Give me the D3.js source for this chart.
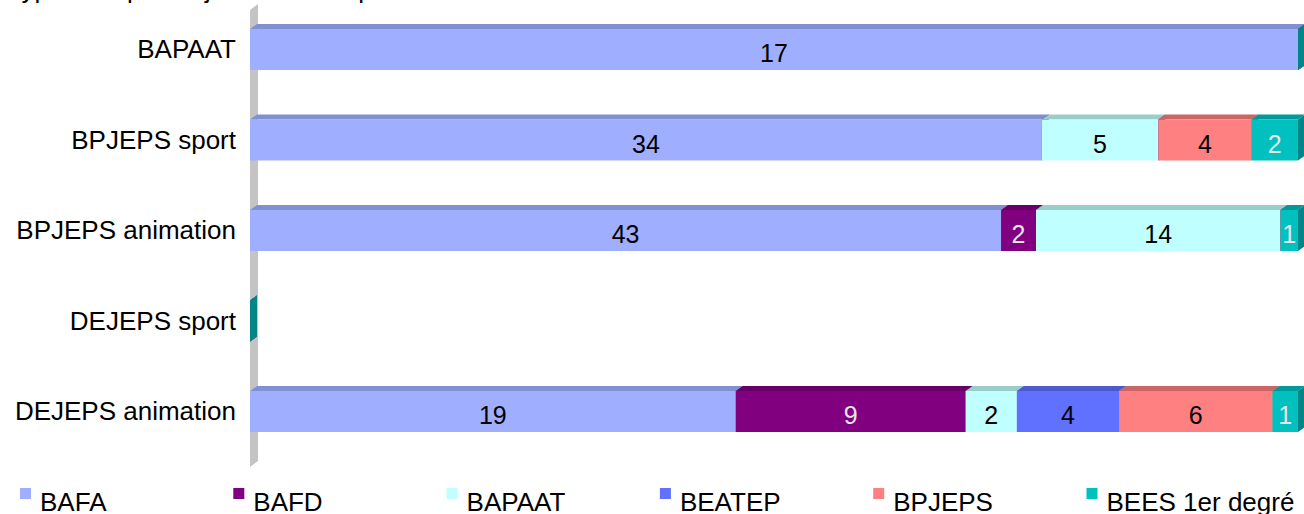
<!DOCTYPE html>
<html>
<head>
<meta charset="utf-8">
<script src="https://cdn.jsdelivr.net/npm/d3@7"></script>
<style>
    body { margin: 0; background: #fff; }
    text { font-family: "Liberation Sans", Arial, sans-serif; }
</style>
</head>
<body>
<div id="chart"></div>
<script>
// Diploma being prepared (rows)
const categories = ["BAPAAT", "BPJEPS sport", "BPJEPS animation", "DEJEPS sport", "DEJEPS animation"];

// Diploma already held (stack series)
const seriesNames = ["BAFA", "BAFD", "BAPAAT", "BEATEP", "BPJEPS", "BEES 1er degré"];

const bafa   = [17, 34, 43, 0, 19];
const bafd   = [0, 0, 2, 0, 9];
const bapaat = [0, 5, 14, 0, 2];
const beatep = [0, 0, 0, 0, 4];
const bpjeps = [0, 4, 0, 0, 6];
const bees   = [0, 2, 1, 0, 1];

const titleText = "Type de diplôme jeunesse et sport obtenu";

const WIDTH = 1304;
const HEIGHT = 514;
const PLOT_LEFT = 250;
const PLOT_RIGHT = 1298;
const BAR_H = 41;
const DX = 7, DY = -5;          // bar depth
const WALL_DX = 8, WALL_DY = -6; // wall depth

// front / top / side colours per series
const frontColors = ["#a0aeff", "#800080", "#c0ffff", "#6070ff", "#ff8080", "#00c0c0"];
const topColors   = ["#8090d0", "#660066", "#9accca", "#4d5acc", "#cc6666", "#009a9a"];
const sideColors  = ["#7080c0", "#550055", "#88bbbb", "#4050b0", "#b05858", "#008686"];
const labelColors = ["#000", "#e6e6e6", "#000", "#000", "#000", "#e6e6e6"];

const seriesValues = [bafa, bafd, bapaat, beatep, bpjeps, bees];

// rows for d3.stack
const rows = categories.map((c, i) => {
    const r = { cat: c };
    seriesNames.forEach((s, j) => { r[s] = seriesValues[j][i]; });
    return r;
});

const stacked = d3.stack()
    .keys(seriesNames)
    .offset(d3.stackOffsetExpand)(rows);

const svg = d3.select("#chart")
    .append("svg")
    .attr("width", WIDTH)
    .attr("height", HEIGHT);

let xScale = d3.scaleLinear()
    .domain([0, 1])
    .range([PLOT_LEFT, PLOT_RIGHT]);

let yScale = d3.scalePoint()
    .domain(categories)
    .range([49.5, 411.5]);

// Title (mostly out of frame)
svg.append("text")
    .attr("x", 7)
    .attr("y", -2.5)
    .attr("font-size", 26)
    .text(titleText);

// Left wall
const wallTop = yScale(categories[0]) - 39.5;
const wallBottom = yScale(categories[categories.length - 1]) + 55.5;
svg.append("path")
    .attr("d", `M${PLOT_LEFT},${wallBottom}L${PLOT_LEFT},${wallTop}` +
        `L${PLOT_LEFT + WALL_DX},${wallTop + WALL_DY}L${PLOT_LEFT + WALL_DX},${wallBottom + WALL_DY}Z`)
    .attr("fill", "#c4c4c4");

// segments: one entry per (row, series)
const segments = [];
categories.forEach((c, i) => {
    stacked.forEach((layer, j) => {
        segments.push({
            cat: c,
            idx: j,
            value: seriesValues[j][i],
            x0: xScale(layer[i][0] || 0),
            x1: xScale(layer[i][1] || 0)
        });
    });
});

const segG = svg.append("g")
    .selectAll("g")
    .data(segments)
    .enter()
    .append("g");

// top face
segG.filter(d => d.value > 0)
    .append("path")
    .attr("d", d => {
        const t = yScale(d.cat) - BAR_H / 2;
        return `M${d.x0},${t}L${d.x0 + DX},${t + DY}L${d.x1 + DX},${t + DY}L${d.x1},${t}Z`;
    })
    .attr("fill", d => topColors[d.idx]);

// side face
segG.append("path")
    .attr("d", d => {
        const t = yScale(d.cat) - BAR_H / 2;
        const b = t + BAR_H;
        return `M${d.x1},${t}L${d.x1 + DX},${t + DY}L${d.x1 + DX},${b + DY}L${d.x1},${b}Z`;
    })
    .attr("fill", d => sideColors[d.idx]);

// front face
segG.filter(d => d.value > 0)
    .append("rect")
    .attr("x", d => d.x0)
    .attr("y", d => yScale(d.cat) - BAR_H / 2)
    .attr("width", d => d.x1 - d.x0)
    .attr("height", BAR_H)
    .attr("fill", d => frontColors[d.idx]);

// value labels
svg.append("g")
    .selectAll("text")
    .data(segments.filter(d => d.value > 0))
    .enter()
    .append("text")
    .attr("x", d => (d.x0 + d.x1) / 2)
    .attr("y", d => yScale(d.cat) + 12.5)
    .attr("text-anchor", "middle")
    .attr("font-size", 25)
    .attr("fill", d => labelColors[d.idx])
    .text(d => d.value);

// category labels
svg.append("g")
    .selectAll("text")
    .data(categories)
    .enter()
    .append("text")
    .attr("x", 236)
    .attr("y", d => yScale(d) + 8.5)
    .attr("text-anchor", "end")
    .attr("font-size", 26)
    .text(d => d);

// legend
const legend = svg.append("g")
    .selectAll("g")
    .data(seriesNames)
    .enter()
    .append("g")
    .attr("transform", (d, i) => `translate(${20 + i * 213.3},0)`);

legend.append("rect")
    .attr("x", 0)
    .attr("y", 488)
    .attr("width", 11)
    .attr("height", 11)
    .attr("fill", (d, i) => frontColors[i]);

legend.append("text")
    .attr("x", 20)
    .attr("y", 511)
    .attr("font-size", 26)
    .text(d => d);
</script>
</body>
</html>
